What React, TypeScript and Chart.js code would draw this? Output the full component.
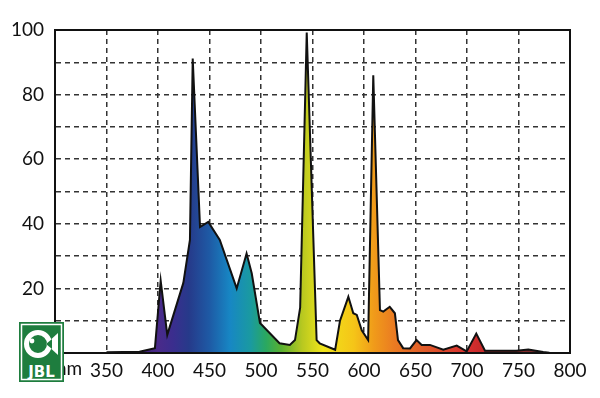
import React, { useEffect, useRef } from "react";
import { Chart, registerables } from "chart.js";

Chart.register(...registerables);

const wavelengths = [350, 382, 397, 402.6, 409, 424.6, 431, 433.7, 440.8, 448.8, 460, 476.4, 486, 491, 499, 518, 528, 533, 538, 544.4, 554, 557, 572, 576.7, 584.8, 589.6, 593, 597.8, 604, 609, 615.5, 618.7, 625, 630, 633, 638, 644.7, 651, 656, 664, 677, 690, 699.7, 709, 717.5, 748, 759.5, 774, 780];
const intensity = [0.2, 0.4, 1.5, 22.4, 5.6, 21.7, 35, 91.2, 39, 40.6, 35, 20, 30.8, 24.7, 9.3, 3, 2.5, 4, 14, 99.2, 4, 3, 1, 10, 17.4, 12.3, 11.8, 7, 4, 86, 13.3, 12.8, 14.3, 12.3, 4, 1.5, 1.4, 4, 2.5, 2.5, 1, 2.3, 0.5, 6, 0.7, 0.7, 1.1, 0.3, 0.1];

const xTicks = [300, 350, 400, 450, 500, 550, 600, 650, 700, 750, 800];
const xTickLabels = ["", "350", "400", "450", "500", "550", "600", "650", "700", "750", "800"];
const unitLabel = "nm";
const yTickLabels = ["0", "20", "40", "60", "80", "100"];

const spectrumStops: [number, string][] = [
  [380, "#3a1f6e"], [400, "#4a2a8a"], [415, "#3a2e8e"], [430, "#263a8a"], [450, "#1e5aa5"],
  [470, "#1787c4"], [490, "#1a9aa0"], [505, "#2aa860"], [520, "#5ab030"], [540, "#b8c820"],
  [560, "#f0e41a"], [590, "#f5c518"], [610, "#f09a1a"], [630, "#ea7a22"], [660, "#e05a2a"],
  [700, "#d83030"], [720, "#c02828"], [760, "#7a2a2a"]
];

export default function App() {
  const canvasRef = useRef<HTMLCanvasElement | null>(null);

  useEffect(() => {
    document.body.style.margin = "0";
    const canvas = canvasRef.current;
    if (!canvas) return;

    const boxPlugin = {
      id: "box",
      afterDatasetsDraw(chart: any) {
        const { ctx, chartArea } = chart;
        ctx.save();
        ctx.strokeStyle = "#111";
        ctx.lineWidth = 2;
        ctx.strokeRect(chartArea.left, chartArea.top, chartArea.right - chartArea.left, chartArea.bottom - chartArea.top);
        ctx.restore();
      },
      afterDraw(chart: any) {
        const { ctx, chartArea } = chart;
        ctx.save();
        ctx.fillStyle = "#111";
        ctx.font = "19px Lato";
        ctx.textAlign = "left";
        ctx.textBaseline = "middle";
        ctx.fillText(unitLabel, chartArea.left + 1, chartArea.bottom + 16);
        ctx.restore();
      },
    };

    const chart = new Chart(canvas, {
      type: "line",
      data: {
        datasets: [
          {
            data: wavelengths.map((w, i) => ({ x: w, y: intensity[i] })),
            borderColor: "#111",
            borderWidth: 2,
            pointRadius: 0,
            tension: 0,
            fill: "origin",
            backgroundColor: (c: any) => {
              const ch = c.chart;
              const area = ch.chartArea;
              if (!area) return "#2a5aa5";
              const xs = ch.scales.x;
              const x0 = xs.getPixelForValue(300);
              const x1 = xs.getPixelForValue(800);
              const g = ch.ctx.createLinearGradient(x0, 0, x1, 0);
              spectrumStops.forEach(([w, col]) => g.addColorStop((w - 300) / 500, col));
              return g;
            },
          },
        ],
      },
      options: {
        animation: false,
        responsive: false,
        maintainAspectRatio: false,
        layout: { padding: { top: 30, right: 30, left: 0, bottom: 0 } },
        plugins: { legend: { display: false }, tooltip: { enabled: false } },
        scales: {
          x: {
            type: "linear",
            min: 300,
            max: 800,
            afterBuildTicks: (s: any) => { s.ticks = xTicks.map((v) => ({ value: v })); },
            afterFit: (s: any) => { s.height = 45; },
            ticks: {
              autoSkip: false,
              maxRotation: 0,
              padding: 6,
              color: "#111",
              font: { family: "Lato", size: 19 },
              callback: (v: any) => xTickLabels[xTicks.indexOf(Number(v))] ?? "",
            },
            grid: { color: "#333", lineWidth: 1.5, drawTicks: false },
            border: { display: true, color: "#111", width: 2, dash: [5, 4] },
          },
          y: {
            min: 0,
            max: 100,
            afterFit: (s: any) => { s.width = 55; },
            ticks: {
              stepSize: 10,
              padding: 11,
              color: "#111",
              font: { family: "Lato", size: 19 },
              callback: (v: any) => (Number(v) % 20 === 0 ? yTickLabels[Number(v) / 20] : ""),
            },
            grid: { color: "#333", lineWidth: 1.5, drawTicks: false },
            border: { display: true, color: "#111", width: 2, dash: [5, 4] },
          },
        },
      },
      plugins: [boxPlugin],
    });

    return () => chart.destroy();
  }, []);

  return (
    <div style={{ position: "fixed", left: 0, top: 0, width: 600, height: 398, background: "#fff" }}>
      <canvas ref={canvasRef} width={600} height={398} style={{ width: 600, height: 398 }} />
      <svg width={45} height={60} viewBox="0 0 45 60" style={{ position: "absolute", left: 19, top: 322 }}>
        <rect x={0} y={0} width={45} height={60} fill="#1e7d3e" />
        <rect x={2.5} y={2.5} width={40} height={55} fill="none" stroke="#fff" strokeWidth={1.5} />
        <circle cx={19} cy={22} r={11.5} fill="none" stroke="#fff" strokeWidth={5} />
        <path d="M27 22 L39 11 L39 33 Z" fill="#fff" />
        <path d="M27 22 L33 17 L33 27 Z" fill="#1e7d3e" />
        <circle cx={13} cy={19} r={2.4} fill="#fff" />
        <text x={22.5} y={55} textAnchor="middle" fill="#fff" fontFamily="DejaVu Sans" fontWeight="bold" fontSize={15}>JBL</text>
      </svg>
    </div>
  );
}
